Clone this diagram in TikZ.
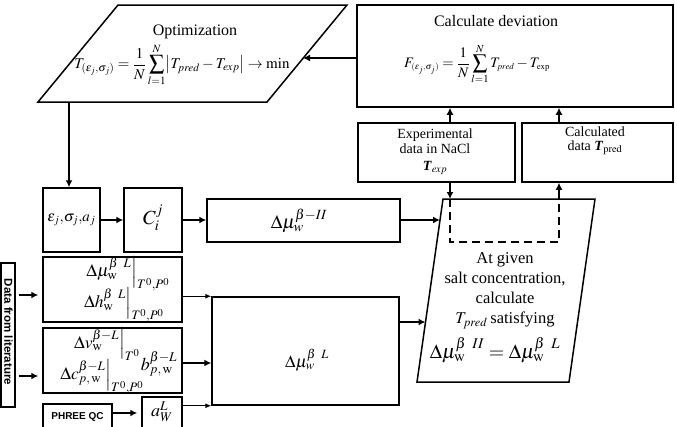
\documentclass[tikz,border=0pt]{standalone}
\usepackage{amsmath}
\usepackage{mathptmx}
\usepackage[no-math]{fontspec}
\setmainfont{Liberation Serif}
\newfontfamily\sansfam{Liberation Sans}
\usetikzlibrary{arrows.meta}
\tikzset{
  box/.style={draw, line width=1.5pt, inner sep=0pt},
  txt/.style={inner sep=0pt, align=center},
  arr/.style={-{Latex[length=7pt,width=7pt]}, line width=2.2pt},
  arrthin/.style={-{Latex[length=6pt,width=5pt]}, line width=1pt},
  dsh/.style={line width=1.5pt, dash pattern=on 8pt off 5pt},
  fs/.style={font=\fontsize{#1}{#1}\selectfont}
}
\begin{document}
\begin{tikzpicture}[x=1pt,y=-1pt]
\useasboundingbox (0,0) rectangle (677,426);
\clip (0,0) rectangle (677,426);
% Optimization parallelogram
\draw[box] (118,5) -- (347,5) -- (267,102) -- (38,102) -- cycle;
\node[txt, fs=16] (optt) at (195,32) {Optimization};
\node[txt, fs=15] (optf) at (182,65) {$\displaystyle T_{(\varepsilon_j,\sigma_j)} = \frac{1}{N}\sum_{l=1}^{N}\bigl|T_{pred}-T_{exp}\bigr| \to \min$};
\coordinate (optR) at (303,58);
\coordinate (optB) at (69,102);
% Calculate deviation
\node[box, minimum width=316pt, minimum height=102pt] (dev) at (515,56) {};
\node[txt, fs=16] (devt) at (496,21) {Calculate deviation};
\node[txt, fs=14.5] (devf) at (477,64) {$\displaystyle F_{\scriptscriptstyle(\varepsilon_j,\sigma_j)} = \frac{1}{N}\sum_{l=1}^{N} T_{\scriptscriptstyle pred}-T_{\scriptscriptstyle\mathrm{exp}}$};
% Experimental / calculated
\node[box, minimum width=157pt, minimum height=59pt] (exp) at (436.5,152.5) {};
\node[txt, font=\fontsize{14}{15}\selectfont] (expt) at (435,152) {Experimental\\data in NaCl\\[2pt]$\textbf{\textit{T}}_{exp}$};
\node[box, minimum width=151pt, minimum height=59pt] (calc) at (597.5,152.5) {};
\node[txt, font=\fontsize{14}{14}\selectfont] (calct) at (595,141) {Calculated\\data $\textbf{\textit{T}}_{\mathrm{pred}}$};
\coordinate (xa) at (450,0);
\coordinate (xb) at (559,0);
\draw[arr] (exp.north -| xa) -- (dev.south -| xa);
\draw[arr] (calc.north -| xb) -- (dev.south -| xb);
% main parallelogram
\draw[box] (443,199) -- (595,199) -- (569,382) -- (417,382) -- cycle;
\coordinate (pT1) at (450,199);
\coordinate (pT2) at (559,199);
\coordinate (d1) at (450,242);
\coordinate (d2) at (559,242);
\coordinate (pL1) at (440,220);
\coordinate (pL2) at (425.5,322);
\draw[dsh] (pT1) -- (d1) -- (d2) -- (pT2);
\draw[arr] (exp.south -| xa) -- (pT1);
\draw[arr] (pT2) -- (calc.south -| xb);
\node[txt, font=\fontsize{16.5}{20}\selectfont] (ptext) at (505,291) {At given\\salt concentration,\\calculate\\$T_{pred}$\,satisfying};
\node[txt, fs=20] (peq) at (495,350) {$\Delta\mu_{\mathrm{w}}^{\beta\ \,II} = \Delta\mu_{\mathrm{w}}^{\beta\ \,L}$};
% left column top row
\node[box, minimum width=57pt, minimum height=64pt] (eps) at (71.5,220) {};
\node[txt, fs=15] (epst) at (71.5,220) {$\varepsilon_j{,}\sigma_j{,}a_j$};
\node[box, minimum width=58pt, minimum height=64pt] (cij) at (153,220) {};
\node[txt, fs=20] (cijt) at (153,218) {$C_i^j$};
\node[box, minimum width=193pt, minimum height=43pt] (dm2) at (303.5,220.5) {};
\node[txt, fs=19] (dm2t) at (299,221) {$\Delta\mu_w^{\beta-II}$};
\draw[arr] (optB) -- (eps.north -| optB);
\draw[arr] (eps.east) -- (cij.west);
\draw[arr] (cij.east) -- (dm2.west |- cij.east);
\draw[arr] (dm2.east |- pL1) -- (pL1);
% lower boxes
\node[box, minimum width=139pt, minimum height=65pt] (b1) at (112.5,289.5) {};
\node[txt, fs=17.5] (b1a) at (128,274) {$\Delta\mu_{\mathrm{w}}^{\beta\ \,L}\Big|_{T^0,P^0}$};
\node[txt, fs=17.5] (b1b) at (124,305) {$\Delta h_{\mathrm{w}}^{\beta\ \,L}\Big|_{T^0,P^0}$};
\node[box, minimum width=139pt, minimum height=65pt] (b2) at (112.5,360.5) {};
\node[txt, fs=17.5] (b2a) at (107,344) {$\Delta v_{\mathrm{w}}^{\beta-L}\Big|_{T^0}$};
\node[txt, fs=17.5] (b2b) at (102,377) {$\Delta c_{p,\,\mathrm{w}}^{\beta-L}\Big|_{T^0,P^0}$};
\node[txt, fs=18] (b2c) at (159,364) {$b_{p,\,\mathrm{w}}^{\beta-L}$};
\node[box, minimum width=69pt, minimum height=28pt] (ph) at (77.5,418) {};
\node[txt, font=\sansfam\bfseries\fontsize{10}{10}\selectfont] (pht) at (77.5,417) {PHREE QC};
\node[box, minimum width=40pt, minimum height=35pt] (aw) at (162,414.5) {};
\node[txt, fs=18] (awt) at (162,412) {$a_W^L$};
\node[box, minimum width=14pt, minimum height=144pt] (data) at (8,335) {};
\node[txt, rotate=-90, font=\sansfam\bfseries\fontsize{11.5}{11.5}\selectfont] (datat) at (8.5,332) {Data from literature};
\node[box, minimum width=187pt, minimum height=108pt] (big) at (305.5,351) {};
\node[txt, fs=17] (bigt) at (307,360) {$\Delta\mu_{w}^{\beta\ \,L}$};
\coordinate (ya) at (0,295);
\coordinate (yb) at (0,376);
\coordinate (yc) at (0,363);
\coordinate (yd) at (0,413);
\draw[arr, shorten <=3pt, shorten >=4pt] (data.east |- ya) -- (b1.west |- ya);
\draw[arr, shorten <=3pt, shorten >=4pt] (data.east |- yb) -- (b2.west |- yb);
\draw[arrthin] (b1.east |- big.north west) -- (big.north west);
\draw[arr] (b2.east |- yc) -- (big.west |- yc);
\draw[arrthin] (aw.east |- big.south west) -- (big.south west);
\draw[arr, shorten >=4pt] (ph.east |- yd) -- (aw.west |- yd);
\draw[arr] (big.east |- pL2) -- (pL2);
% deviation -> optimization
\draw[arr] (optR -| dev.west) -- (optR);
\end{tikzpicture}
\end{document}
